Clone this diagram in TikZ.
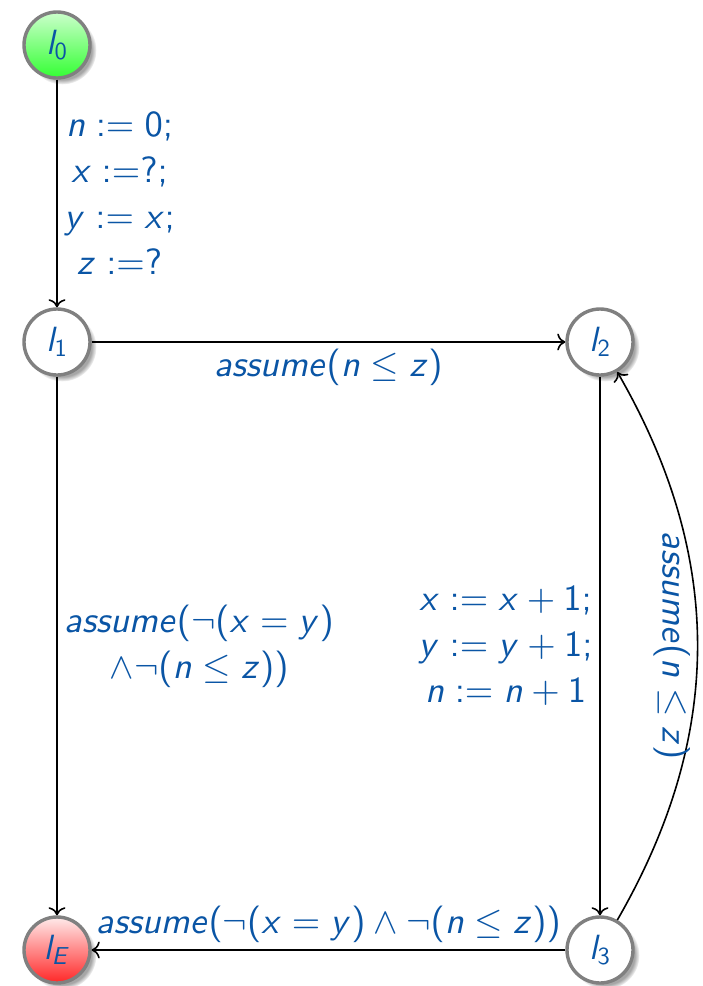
\documentclass[tikz,border=0pt]{standalone}
\usetikzlibrary{arrows.meta,positioning,shadows}
\definecolor{ink}{HTML}{0A55A5}
\definecolor{rim}{HTML}{808080}
\DeclareFontFamily{OT1}{locsf}{}
\DeclareFontShape{OT1}{locsf}{m}{n}{<->cmss10}{}
\DeclareFontShape{OT1}{locsf}{m}{sl}{<->cmssi10}{}
\DeclareFontFamily{OMS}{locsy}{\skewchar\font=48}
\DeclareFontShape{OMS}{locsy}{m}{n}{<->cmsy10}{}
\SetSymbolFont{letters}{normal}{OT1}{locsf}{m}{sl}
\SetSymbolFont{operators}{normal}{OT1}{locsf}{m}{n}
\SetSymbolFont{symbols}{normal}{OMS}{locsy}{m}{n}
\begin{document}
\begin{tikzpicture}[node distance=148.5pt and 271.5pt,on grid,>={To[scale=1.2]},font=\fontsize{18.3}{23}\selectfont,
loc/.style={circle,draw=rim,line width=1.7pt,minimum size=33pt,inner sep=0pt,fill=white,text=ink,font=\fontsize{17.5}{20}\selectfont,
  circular drop shadow={shadow xshift=2.5pt,shadow yshift=-2.5pt,shadow scale=1.04,opacity=.7}},
start/.style={loc,top color=green!20,bottom color=green!80},
err/.style={loc,top color=red!8,bottom color=red!85},
lbl/.style={text=ink,align=center},
edge/.style={->,line width=0.8pt}]
\path[use as bounding box] (0,0) rectangle (351pt,-493pt);
\node[start] (l0) at (28.5pt,-22.5pt) {$l_0$};
\node[loc,below=of l0] (l1) {$l_1$};
\node[loc,right=of l1] (l2) {$l_2$};
\node[loc,below=304pt of l2] (l3) {$l_3$};
\node[err,below=304pt of l1] (lE) {$l_E$};
\draw[edge] (l0) -- node[lbl,right] {$n := 0;$\\$x :=?;$\\$y := x;$\\$z :=?$} (l1);
\draw[edge] (l1) -- node[lbl,below] {$assume(n \leq z)$} (l2);
\draw[edge] (l1) -- node[lbl,right] {$assume(\neg(x = y)$\\$\wedge\neg(n \leq z))$} (lE);
\draw[edge] (l2) -- node[lbl,left] {$x := x + 1;$\\$y := y + 1;$\\$n := n + 1$} (l3);
\draw[edge] (l3) to[bend right=30] node[lbl,midway,rotate=-90,anchor=north] {$assume(n \leq z)$} (l2);
\draw[edge] (l3) -- node[lbl,above] {$assume(\neg(x = y) \wedge \neg(n \leq z))$} (lE);
\end{tikzpicture}
\end{document}
